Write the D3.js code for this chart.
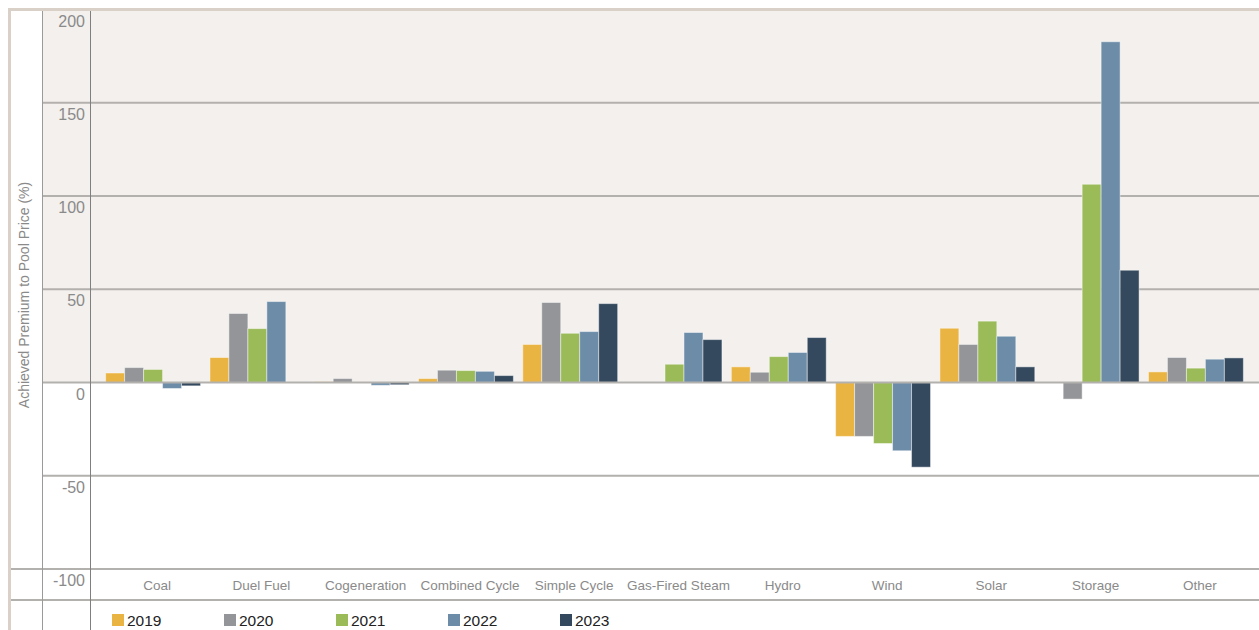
<!DOCTYPE html>
<html>
<head>
<meta charset="utf-8">
<script src="https://cdn.jsdelivr.net/npm/d3@7"></script>
<style>
  html, body { margin: 0; padding: 0; background: #ffffff; }
  svg { display: block; font-family: "Liberation Sans", Arial, Helvetica, sans-serif; }
</style>
</head>
<body>
<svg id="chart" width="1259" height="630"></svg>
<script>
// Generation types along the x axis
const categories = ["Coal", "Duel Fuel", "Cogeneration", "Combined Cycle", "Simple Cycle",
  "Gas-Fired Steam", "Hydro", "Wind", "Solar", "Storage", "Other"];

// Years shown as grouped bars
const years = ["2019", "2020", "2021", "2022", "2023"];

// Achieved premium to pool price (%), one array per year, in category order
const v2019 = [5.1, 13.4, 0.4, 2.1, 20.4, 0, 8.4, -28.9, 29.1, 0, 5.7];
const v2020 = [8.0, 37.0, 2.1, 6.6, 42.9, 0, 5.5, -28.9, 20.4, -8.9, 13.4];
const v2021 = [7.0, 28.9, 0, 6.4, 26.4, 9.8, 13.9, -32.7, 32.9, 106.3, 7.7];
const v2022 = [-3.2, 43.4, -1.5, 6.0, 27.3, 26.8, 16.1, -36.6, 24.8, 182.7, 12.5];
const v2023 = [-1.8, 0, -1.2, 3.7, 42.3, 23.0, 24.1, -45.4, 8.4, 60.2, 13.2];

const yTicks = [200, 150, 100, 50, 0, -50, -100];
const yTitle = "Achieved Premium to Pool Price (%)";

const seriesValues = [v2019, v2020, v2021, v2022, v2023];
const colors = ["#EAB443", "#939598", "#9BBB59", "#6C8CA8", "#34495E"];

const W = 1259, H = 630;
const svg = d3.select("#chart");

const frameX = 9.5, axisColX = 42.5, plotX = 90.5;
const bottomRule = 600;

const y = d3.scaleLinear().domain([-100, 200]).range([569, 9.5]);
const x0 = d3.scaleBand().domain(categories).range([90, W])
  .paddingInner(0.09).paddingOuter(0.15);
const x1 = d3.scaleBand().domain(years).range([0, x0.bandwidth()]).padding(0);

// Tinted background above the zero line
svg.append("rect")
  .attr("x", axisColX).attr("y", y(200))
  .attr("width", W - axisColX).attr("height", y(0) - y(200))
  .attr("fill", "#f3f0ed");

// Horizontal grid lines
svg.append("g").selectAll("line")
  .data(yTicks.filter(d => d !== 200 && d !== 0 && d !== -100))
  .join("line")
  .attr("x1", axisColX).attr("x2", W)
  .attr("y1", d => y(d)).attr("y2", d => y(d))
  .attr("stroke", "#b3b1ae").attr("stroke-width", 2);

// Rule at -100 and the rule under the category labels span the whole frame
svg.append("line")
  .attr("x1", frameX).attr("x2", W).attr("y1", y(-100)).attr("y2", y(-100))
  .attr("stroke", "#b3b1ae").attr("stroke-width", 2);
svg.append("line")
  .attr("x1", frameX).attr("x2", W).attr("y1", bottomRule).attr("y2", bottomRule)
  .attr("stroke", "#b3b1ae").attr("stroke-width", 2);

// Bars
const groups = svg.append("g").selectAll("g")
  .data(categories)
  .join("g")
  .attr("transform", d => `translate(${x0(d)},0)`);

groups.selectAll("rect")
  .data((c, i) => years.map((yr, k) => ({ yr, k, v: seriesValues[k][i] })))
  .join("rect")
  .filter(d => d.v !== 0)
  .attr("x", d => x1(d.yr))
  .attr("y", d => y(Math.max(0, d.v)))
  .attr("width", x1.bandwidth())
  .attr("height", d => Math.abs(y(d.v) - y(0)))
  .attr("fill", d => colors[d.k])
  .attr("stroke", "rgba(255,255,255,0.45)")
  .attr("stroke-width", 1);

// Zero line
svg.append("line")
  .attr("x1", axisColX).attr("x2", W).attr("y1", y(0)).attr("y2", y(0))
  .attr("stroke", "#b3b1ae").attr("stroke-width", 2);

// Frame: top edge (200 line) and left edge
svg.append("line")
  .attr("x1", frameX - 1.5).attr("x2", W).attr("y1", y(200)).attr("y2", y(200))
  .attr("stroke", "#d9d1c7").attr("stroke-width", 3);
svg.append("line")
  .attr("x1", frameX).attr("x2", frameX).attr("y1", y(200)).attr("y2", H)
  .attr("stroke", "#d9d1c7").attr("stroke-width", 3);

// Column separators
svg.append("line")
  .attr("x1", axisColX).attr("x2", axisColX).attr("y1", y(200) + 1.5).attr("y2", H)
  .attr("stroke", "#9a9a9a").attr("stroke-width", 1);
svg.append("line")
  .attr("x1", plotX).attr("x2", plotX).attr("y1", y(200) + 1.5).attr("y2", H)
  .attr("stroke", "#7f7f7f").attr("stroke-width", 1);

// Y tick labels, hung just below their grid lines
svg.append("g").selectAll("text")
  .data(yTicks)
  .join("text")
  .attr("x", 85).attr("y", d => y(d) + 17)
  .attr("text-anchor", "end")
  .attr("font-size", 16)
  .attr("fill", "#8a8a8a")
  .text(d => d);

// Y axis title
svg.append("text")
  .attr("transform", `translate(29,${295}) rotate(-90)`)
  .attr("text-anchor", "middle")
  .attr("font-size", 14)
  .attr("fill", "#8a8a8a")
  .text(yTitle);

// Category labels
svg.append("g").selectAll("text")
  .data(categories)
  .join("text")
  .attr("x", d => x0(d) + x0.bandwidth() / 2 + 4)
  .attr("y", 590)
  .attr("text-anchor", "middle")
  .attr("font-size", 13.5)
  .attr("fill", "#8a8a8a")
  .text(d => d);

// Legend
const legend = svg.append("g").selectAll("g")
  .data(years)
  .join("g")
  .attr("transform", (d, i) => `translate(${112 + i * 112},614)`);
legend.append("rect")
  .attr("width", 12).attr("height", 12)
  .attr("fill", (d, i) => colors[i]);
legend.append("text")
  .attr("x", 15).attr("y", 12)
  .attr("font-size", 15.5)
  .attr("fill", "#222")
  .text(d => d);
</script>
</body>
</html>
